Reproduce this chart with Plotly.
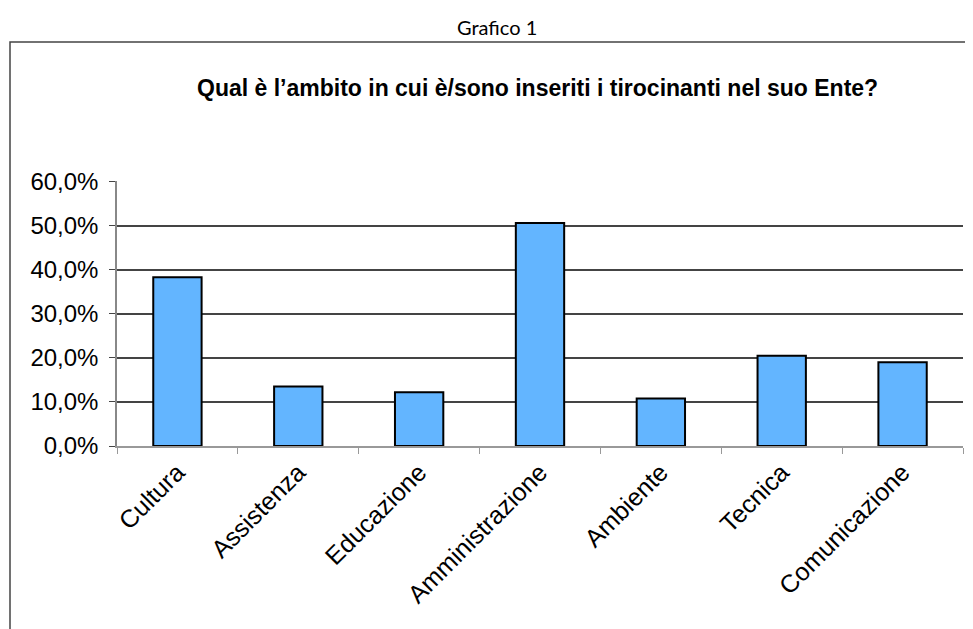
import plotly.graph_objects as go

categories = ["Cultura", "Assistenza", "Educazione", "Amministrazione", "Ambiente", "Tecnica", "Comunicazione"]
values = [0.383, 0.135, 0.122, 0.506, 0.108, 0.205, 0.190]
y_ticks = [0, 0.1, 0.2, 0.3, 0.4, 0.5, 0.6]

# page body has an 8px margin; compensate so the plot lands where the reference has it
OFF = 8
W, H = 973, 629
L, T = 117 - OFF, 181 - OFF
pw, ph = 846, 265
R = W - L - pw
B = H - T - ph

def px_x(x):
    return (x - OFF - L) / pw

def px_y(y):
    return (T + ph - (y - OFF)) / ph

fig = go.Figure(go.Bar(
    x=categories, y=values,
    marker=dict(color="#63b5ff", line=dict(color="#000000", width=2)),
    width=0.4,
))

fig.update_layout(
    width=W, height=H,
    margin=dict(l=L, r=R, t=T, b=B),
    paper_bgcolor="white", plot_bgcolor="white",
    separators=",.",
    showlegend=False,
    font=dict(family="Liberation Sans, Arial", color="#000000"),
    shapes=[dict(type="rect", xref="paper", yref="paper",
                 x0=px_x(10), x1=px_x(990), y0=px_y(650), y1=px_y(42),
                 line=dict(color="#444444", width=1.5), layer="below")],
    annotations=[
        dict(text="Grafico 1", xref="paper", yref="paper", x=px_x(497), y=px_y(27),
             showarrow=False, xanchor="center", yanchor="middle",
             font=dict(family="Lato, Open Sans", size=20, color="#000000")),
        dict(text="<b>Qual è l’ambito in cui è/sono inseriti i tirocinanti nel suo Ente?</b>",
             xref="paper", yref="paper", x=px_x(537), y=px_y(88),
             showarrow=False, xanchor="center", yanchor="middle",
             font=dict(family="Liberation Sans, Arial", size=23, color="#000000")),
    ],
)

fig.update_yaxes(
    range=[0, 0.6015], tickvals=y_ticks, tickformat=".1%",
    showgrid=True, gridcolor="#444444", gridwidth=1.5,
    showline=True, linecolor="#888888", linewidth=1.5,
    ticks="outside", ticklen=6, tickcolor="#444444",
    ticklabelstandoff=6,
    tickfont=dict(size=24, family="Liberation Sans, Arial"),
    zeroline=False,
)
fig.update_xaxes(
    tickangle=-45, tickson="boundaries",
    showline=True, linecolor="#999999", linewidth=1.5,
    ticks="outside", ticklen=6, tickcolor="#999999",
    tickfont=dict(size=25, family="Liberation Sans, Arial"),
)

fig.write_html("out.html")
